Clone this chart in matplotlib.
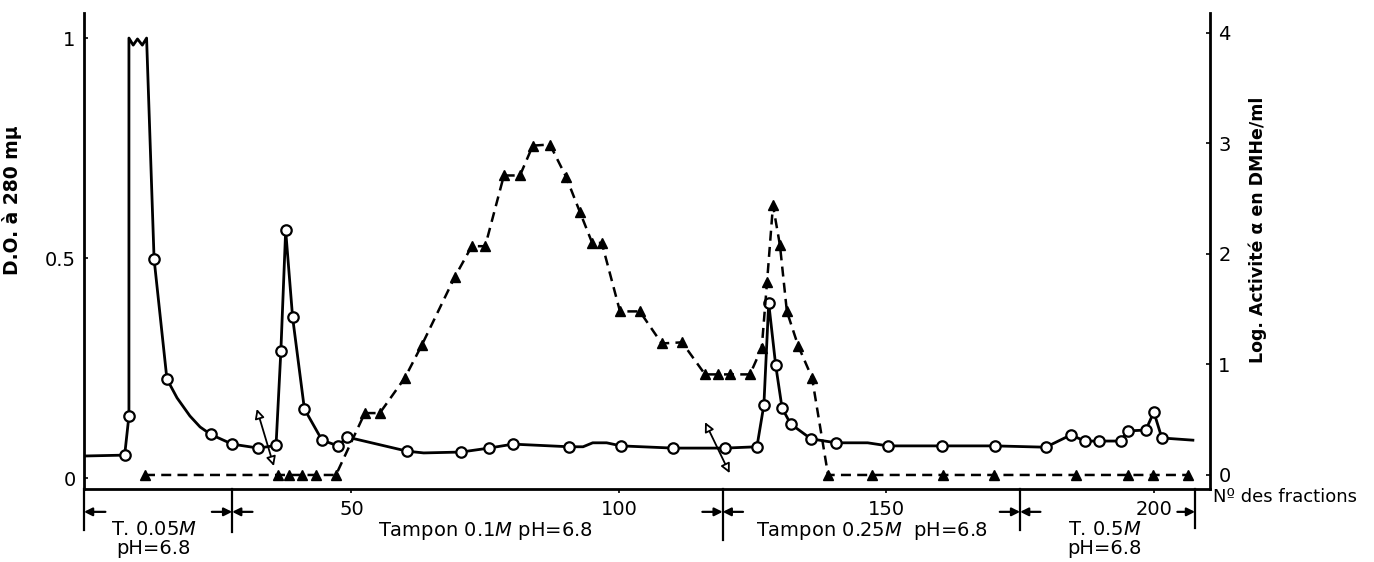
import matplotlib
matplotlib.use("Agg")
from matplotlib import pyplot as plt

# Circles: O.D. at 280 mu (left axis)
od_frac = [7.6, 8.4, 13.1, 15.5, 23.7, 27.7, 32.6, 35.9, 36.8, 37.7, 39.0, 41.2,
           44.5, 47.5, 49.2, 60.4, 70.5, 75.7, 80.2, 90.7, 100.4, 110.1, 119.9,
           125.8, 127.1, 128.0, 129.3, 130.5, 132.1, 135.9, 140.6, 150.3, 160.4,
           170.3, 179.8, 184.5, 187.1, 189.7, 193.8, 195.1, 198.5, 200.0, 201.5]
od_val = [0.052, 0.141, 0.498, 0.225, 0.099, 0.077, 0.068, 0.074, 0.288, 0.563,
          0.365, 0.157, 0.086, 0.073, 0.093, 0.061, 0.059, 0.068, 0.077, 0.071,
          0.073, 0.068, 0.068, 0.071, 0.166, 0.398, 0.257, 0.159, 0.123, 0.089,
          0.080, 0.073, 0.073, 0.073, 0.070, 0.098, 0.084, 0.084, 0.084, 0.107,
          0.109, 0.150, 0.091]

# hand-drawn O.D. trace (through the circles, plus off-scale plateau and bends)
od_line_frac = [0, 7.6, 8.4, 8.4, 9.2, 10.0, 10.9, 11.7, 13.1, 15.5, 17.4, 19.8,
                21.7, 23.7, 27.7, 32.6, 35.9, 36.8, 37.7, 39.0, 41.2, 44.5, 47.5,
                49.2, 60.4, 63.5, 70.5, 75.7, 80.2, 90.7, 93.3, 95.1, 97.7, 100.4,
                110.1, 119.9, 125.8, 127.1, 128.0, 129.3, 130.5, 132.1, 135.9,
                140.6, 146.5, 150.3, 160.4, 170.3, 179.8, 184.5, 187.1, 189.7,
                193.8, 195.1, 198.5, 200.0, 201.5, 207.3]
od_line_val = [0.050, 0.052, 0.141, 1.0, 0.984, 0.998, 0.984, 1.0, 0.498, 0.225,
               0.182, 0.141, 0.116, 0.099, 0.077, 0.068, 0.074, 0.288, 0.563,
               0.365, 0.157, 0.086, 0.073, 0.093, 0.061, 0.057, 0.059, 0.068,
               0.077, 0.071, 0.071, 0.080, 0.080, 0.073, 0.068, 0.068, 0.071,
               0.166, 0.398, 0.257, 0.159, 0.123, 0.089, 0.080, 0.080, 0.073,
               0.073, 0.073, 0.070, 0.098, 0.084, 0.084, 0.084, 0.107, 0.109,
               0.150, 0.091, 0.086]

# Triangles: log alpha activity (right axis)
act_frac = [11.4, 36.2, 38.4, 40.8, 43.4, 47.1, 52.5, 55.3, 60.0, 63.2, 69.3,
            72.5, 75.0, 78.5, 81.5, 83.9, 87.1, 90.1, 92.7, 95.0, 96.8, 100.2,
            103.9, 108.0, 111.8, 116.1, 118.5, 120.7, 124.5, 126.7, 127.7, 128.8,
            130.1, 131.4, 133.5, 136.1, 139.1, 147.3, 160.6, 170.1, 185.4, 195.1,
            199.8, 206.4]
act_val = [0, 0, 0, 0, 0, 0, 0.56, 0.56, 0.88, 1.18, 1.79, 2.07, 2.07, 2.71,
           2.71, 2.98, 2.99, 2.70, 2.38, 2.10, 2.10, 1.48, 1.48, 1.19, 1.20, 0.91,
           0.91, 0.91, 0.91, 1.15, 1.75, 2.44, 2.08, 1.48, 1.17, 0.88, 0, 0, 0,
           0, 0, 0, 0, 0]

# buffer steps along the fraction axis
buffer_start = 0
buffer_changes = [27.7, 119.4, 175.0]
buffer_end = 207.7
buffer_labels = ["T. 0.05$M$\npH=6.8", "Tampon 0.1$M$ pH=6.8",
                 "Tampon 0.25$M$  pH=6.8", "T. 0.5$M$\npH=6.8"]
buffer_label_x = [13.0, 75.0, 147.3, 190.8]

# open double arrows on the chart (start, end) in fraction / O.D.
marker_arrows = [((32.3, 0.157), (35.5, 0.027)), ((116.1, 0.127), (120.7, 0.011))]


def main():
    plt.rcParams["font.family"] = ["DejaVu Sans"]
    fig = plt.figure(figsize=(13.74, 5.62), dpi=100)
    ax = fig.add_axes([84 / 1374, 73 / 562, 1126 / 1374, 476 / 562])
    ax2 = ax.twinx()

    ax.set_xlim(0, 210.5)
    ax.set_ylim(-0.025, 1.057)
    ax2.set_ylim(-0.127, 4.18)

    # O.D. curve
    ax.plot(od_line_frac, od_line_val, color="black", lw=2, zorder=3,
            solid_joinstyle="round")
    ax.plot(od_frac, od_val, "o", ms=7.5, mfc="white", mec="black", mew=1.6,
            zorder=4)

    # activity curve
    ax2.plot(act_frac, act_val, color="black", lw=1.8, dashes=(4, 2.5), zorder=3)
    ax2.plot(act_frac, act_val, "^", ms=7, color="black", zorder=4)

    for start, end in marker_arrows:
        ax.annotate("", xy=end, xytext=start,
                    arrowprops=dict(arrowstyle="<|-|>", fc="white", ec="black",
                                    lw=1.3, mutation_scale=14, shrinkA=0,
                                    shrinkB=0), zorder=5)

    # spines / ticks
    for a in (ax, ax2):
        a.spines["top"].set_visible(False)
    ax.spines["right"].set_visible(False)
    ax2.spines["left"].set_visible(False)
    ax2.spines["bottom"].set_visible(False)
    for s in ("left", "bottom"):
        ax.spines[s].set_linewidth(2)
    ax2.spines["right"].set_linewidth(2)

    ax.set_xticks([50, 100, 150, 200])
    ax.set_yticks([0, 0.5, 1])
    ax.set_yticklabels(["0", "0.5", "1"])
    ax2.set_yticks([0, 1, 2, 3, 4])
    ax.tick_params(axis="x", length=3, width=1.2, pad=5, labelsize=14)
    ax.tick_params(axis="y", length=3, width=1.2, direction="in", pad=6,
                   labelsize=14)
    ax2.tick_params(axis="y", length=3, width=1.2, direction="in", pad=6,
                    labelsize=14)

    ax.set_ylabel("D.O. à 280 mμ", fontsize=13.5, fontweight="bold")
    ax.yaxis.set_label_coords(-0.055, 0.607)
    ax2.set_ylabel("Log. Activité α en DMHe/ml", fontsize=12.5,
                   fontweight="bold")
    ax2.yaxis.set_label_coords(1.034, 0.545)

    trans = ax.get_xaxis_transform()
    ax.text(1.003, -0.017, "Nº des fractions", transform=ax.transAxes,
            fontsize=13, ha="left", va="center")

    # buffer brackets under the axis
    arrow_y = -0.048
    bar_bottom = {buffer_start: -0.086, buffer_changes[0]: -0.090,
                  buffer_changes[1]: -0.107, buffer_changes[2]: -0.086,
                  buffer_end: -0.082}
    for xb, yb in bar_bottom.items():
        ax.plot([xb, xb], [0, yb], color="black", lw=1.6, transform=trans,
                clip_on=False)
    head = dict(arrowstyle="-|>", color="black", lw=1.6, mutation_scale=12,
                shrinkA=0, shrinkB=0)
    ax.annotate("", xy=(buffer_start, arrow_y), xytext=(buffer_start + 4, arrow_y),
                xycoords=trans, textcoords=trans, arrowprops=head,
                annotation_clip=False)
    for xb in buffer_changes:
        ax.annotate("", xy=(xb, arrow_y), xytext=(xb - 3.8, arrow_y),
                    xycoords=trans, textcoords=trans, arrowprops=head,
                    annotation_clip=False)
        ax.annotate("", xy=(xb, arrow_y), xytext=(xb + 3.8, arrow_y),
                    xycoords=trans, textcoords=trans, arrowprops=head,
                    annotation_clip=False)
    ax.annotate("", xy=(buffer_end, arrow_y), xytext=(buffer_end - 3.3, arrow_y),
                xycoords=trans, textcoords=trans, arrowprops=head,
                annotation_clip=False)

    for label, xl in zip(buffer_labels, buffer_label_x):
        ax.text(xl, -0.065, label, transform=trans, fontsize=14, ha="center",
                va="top", linespacing=1.0)

    fig.savefig("out.png", dpi=100)


if __name__ == "__main__":
    main()
